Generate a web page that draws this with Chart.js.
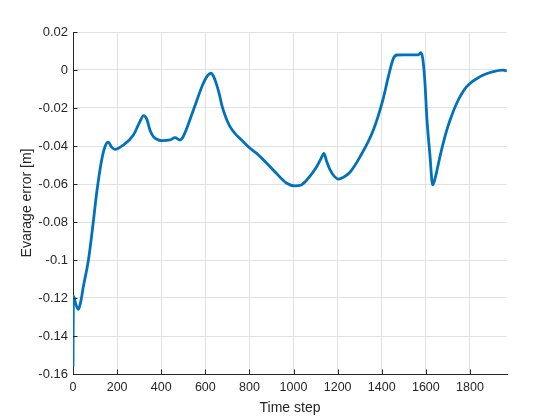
<!DOCTYPE html>
<html>
<head>
<meta charset="utf-8">
<script src="https://cdn.jsdelivr.net/npm/chart.js@4/dist/chart.umd.min.js"></script>
<style>
  html, body { margin: 0; padding: 0; background: #fff; }
  canvas { display: block; }
</style>
</head>
<body>
<canvas id="chartCanvas" width="560" height="420"></canvas>
<script>
// time step and average error
const timeSteps = [0, 2, 6, 12, 24, 35, 47, 70, 92, 107, 130, 145, 160, 175, 190, 228, 274, 300, 320, 335,
    350, 364, 380, 402, 440, 463, 485, 500, 546, 591, 610, 626, 640, 652, 664, 676, 689, 700, 712, 735,
    757, 803, 833, 908, 969, 1007, 1035, 1060, 1105, 1125, 1138, 1150, 1166, 1185, 1205, 1225, 1256, 1302,
    1362, 1407, 1430, 1453, 1468, 1500, 1566, 1577, 1586, 1595, 1605, 1618, 1631, 1642, 1652, 1664, 1680,
    1695, 1710, 1740, 1785, 1846, 1906, 1950, 1967];
const avgError = [-0.156, -0.119, -0.120, -0.123, -0.126, -0.122, -0.114, -0.100, -0.080, -0.065, -0.0474,
    -0.0404, -0.038, -0.0405, -0.0418, -0.0395, -0.0342, -0.028, -0.024, -0.026, -0.032, -0.035, -0.0365,
    -0.0372, -0.0368, -0.0356, -0.0368, -0.035, -0.021, -0.007, -0.003, -0.0017, -0.004, -0.008, -0.013,
    -0.019, -0.0237, -0.027, -0.0298, -0.0335, -0.036, -0.0412, -0.0439, -0.0526, -0.0596, -0.061, -0.0605,
    -0.0579, -0.0509, -0.0465, -0.0439, -0.048, -0.0526, -0.056, -0.0574, -0.0565, -0.0538, -0.0456,
    -0.0316, -0.0149, -0.0035, 0.0061, 0.0079, 0.008, 0.008, 0.0091, 0.006, -0.005, -0.026, -0.044,
    -0.0605, -0.057, -0.052, -0.0456, -0.038, -0.0316, -0.0263, -0.0175, -0.0088, -0.0035, -0.0009,
    -0.0001, -0.0004];

const xTicks = [0, 200, 400, 600, 800, 1000, 1200, 1400, 1600, 1800];
const yTicks = [-0.16, -0.14, -0.12, -0.1, -0.08, -0.06, -0.04, -0.02, 0, 0.02];
const yTickLabels = ['-0.16', '-0.14', '-0.12', '-0.1', '-0.08', '-0.06', '-0.04', '-0.02', '0', '0.02'];

const axisColor = '#262626';
const gridColor = '#e1e1e1';
const fontFamily = '"Liberation Sans", Arial, sans-serif';

// matlab style ticks pointing into the plot
const inwardTicks = {
    id: 'inwardTicks',
    afterDatasetsDraw(chart) {
        const c = chart.ctx;
        const x = chart.scales.x, y = chart.scales.y;
        const len = 4.5;
        c.save();
        c.strokeStyle = axisColor;
        c.lineWidth = 1;
        c.beginPath();
        x.ticks.forEach(t => {
            const px = Math.round(x.getPixelForValue(t.value)) + 0.5;
            c.moveTo(px, y.bottom);
            c.lineTo(px, y.bottom - len);
        });
        y.ticks.forEach(t => {
            const py = Math.round(y.getPixelForValue(t.value)) + 0.5;
            c.moveTo(x.left, py);
            c.lineTo(x.left + len, py);
        });
        c.stroke();
        c.restore();
    }
};

const ctx = document.getElementById('chartCanvas').getContext('2d');
new Chart(ctx, {
    type: 'line',
    data: {
        datasets: [{
            data: timeSteps.map((t, i) => ({ x: t, y: avgError[i] })),
            borderColor: '#0072BD',
            borderWidth: 2.8,
            pointRadius: 0,
            fill: false,
            cubicInterpolationMode: 'monotone'
        }]
    },
    options: {
        responsive: false,
        animation: false,
        layout: { padding: { left: 0, right: 53, top: 32, bottom: 0 } },
        plugins: {
            legend: { display: false },
            tooltip: { enabled: false }
        },
        scales: {
            x: {
                type: 'linear',
                min: 0,
                max: 1968,
                afterBuildTicks: s => { s.ticks = xTicks.map(v => ({ value: v })); },
                afterFit: s => { s.height = 46; },
                grid: { color: gridColor, drawTicks: false },
                border: { display: true, color: axisColor, width: 1 },
                ticks: {
                    color: axisColor,
                    padding: 6,
                    maxRotation: 0,
                    font: { family: fontFamily, size: 12.5 },
                    callback: v => String(v)
                },
                title: {
                    display: true,
                    text: 'Time step',
                    color: axisColor,
                    font: { family: fontFamily, size: 14 },
                    padding: { top: 0, bottom: 3.5 }
                }
            },
            y: {
                min: -0.16,
                max: 0.02,
                afterBuildTicks: s => { s.ticks = yTicks.map(v => ({ value: v })); },
                afterFit: s => { s.width = 73; },
                grid: { color: gridColor, drawTicks: false },
                border: { display: true, color: axisColor, width: 1 },
                ticks: {
                    color: axisColor,
                    padding: 5,
                    font: { family: fontFamily, size: 13 },
                    callback: (v, i) => yTickLabels[i]
                },
                title: {
                    display: true,
                    text: 'Evarage error [m]',
                    color: axisColor,
                    font: { family: fontFamily, size: 14 },
                    padding: { top: 18.5, bottom: 0 }
                }
            }
        }
    },
    plugins: [inwardTicks]
});
</script>
</body>
</html>
